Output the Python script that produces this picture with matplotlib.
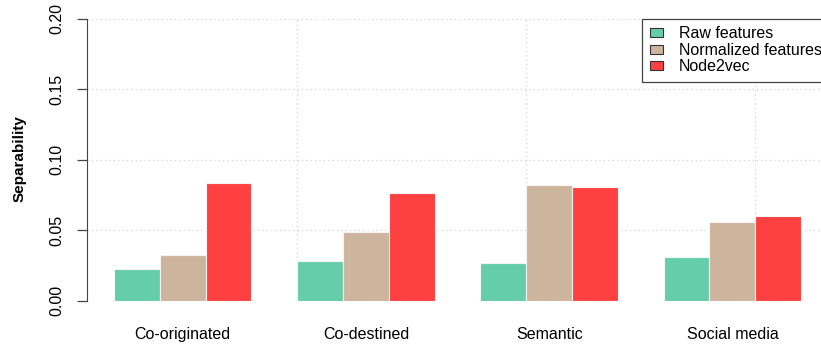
import numpy as np
import matplotlib
matplotlib.use('Agg')
import matplotlib.pyplot as plt
from matplotlib import patches

plt.rcParams['font.family'] = ['Liberation Sans', 'DejaVu Sans']

categories = ['Co-originated', 'Co-destined', 'Semantic', 'Social media']
series = ['Raw features', 'Normalized features', 'Node2vec']
raw = [0.0226, 0.0283, 0.0269, 0.0311]
normalized = [0.0323, 0.0487, 0.0818, 0.0555]
node2vec = [0.0832, 0.0761, 0.0808, 0.0602]
colors = ['#66CDAA', '#CDB49C', '#FF4040']
yticks = [0.00, 0.05, 0.10, 0.15, 0.20]

W, H = 821, 345
fig = plt.figure(figsize=(W / 100, H / 100), dpi=100)
# plot region in pixels (R barplot: x in bar units, xlim = 0.4..16.6)
x0, unit = 68.3, 45.8
left = x0 + 0.4 * unit
right = x0 + 16.6 * unit
top, bottom = 18.5, 300.5
ax = fig.add_axes([left / W, (H - bottom) / H, (right - left) / W, (bottom - top) / H])
ax.set_xlim(0.4, 16.6)
ax.set_ylim(0, 0.2)

# grid (R grid(): dotted lightgray)
for v in yticks:
    ax.axhline(v, color='#d3d3d3', lw=0.9, ls=(0, (1, 2.5)), zorder=0)
for v in [5, 10, 15]:
    ax.axvline(v, color='#d3d3d3', lw=0.9, ls=(0, (1, 2.5)), zorder=0)

data = [raw, normalized, node2vec]
for j, vals in enumerate(data):
    xs = np.arange(len(categories)) * 4 + 1 + j
    ax.bar(xs, vals, width=1.0, align='edge', color=colors[j],
           edgecolor='#f4f4f4', lw=0.8, zorder=2)

for s in ['top', 'right', 'bottom']:
    ax.spines[s].set_visible(False)
ax.spines['left'].set_color('#444444')
ax.spines['left'].set_bounds(0, 0.2)

ax.set_yticks(yticks)
ax.set_yticklabels(['%.2f' % v for v in yticks], rotation=90, va='center', fontsize=11.5)
ax.tick_params(axis='y', length=7, width=0.9, color='#444444', pad=9)
ax.set_xticks(np.arange(len(categories)) * 4 + 2.5)
ax.set_xticklabels(categories, fontsize=11.5)
ax.tick_params(axis='x', length=0, pad=19)
fig.text(20 / W, 0.5 - (159 - 172.5) / H, 'Separability', rotation=90, ha='center',
         va='center', fontsize=11, fontweight='bold')

# legend runs off the right edge, as in the original
handles = [patches.Patch(facecolor=c, edgecolor='#333333', lw=0.8) for c in colors]
leg = ax.legend(handles, series, loc='upper left', fontsize=11.5,
                bbox_to_anchor=((642 - left) / (right - left), 1.0),
                borderaxespad=0, fancybox=False, framealpha=1,
                edgecolor='#444444', handlelength=0.8, handleheight=0.5,
                handletextpad=1.0, labelspacing=0.08, borderpad=0.5)
leg.get_frame().set_linewidth(0.9)

fig.savefig('out.png', dpi=100)
